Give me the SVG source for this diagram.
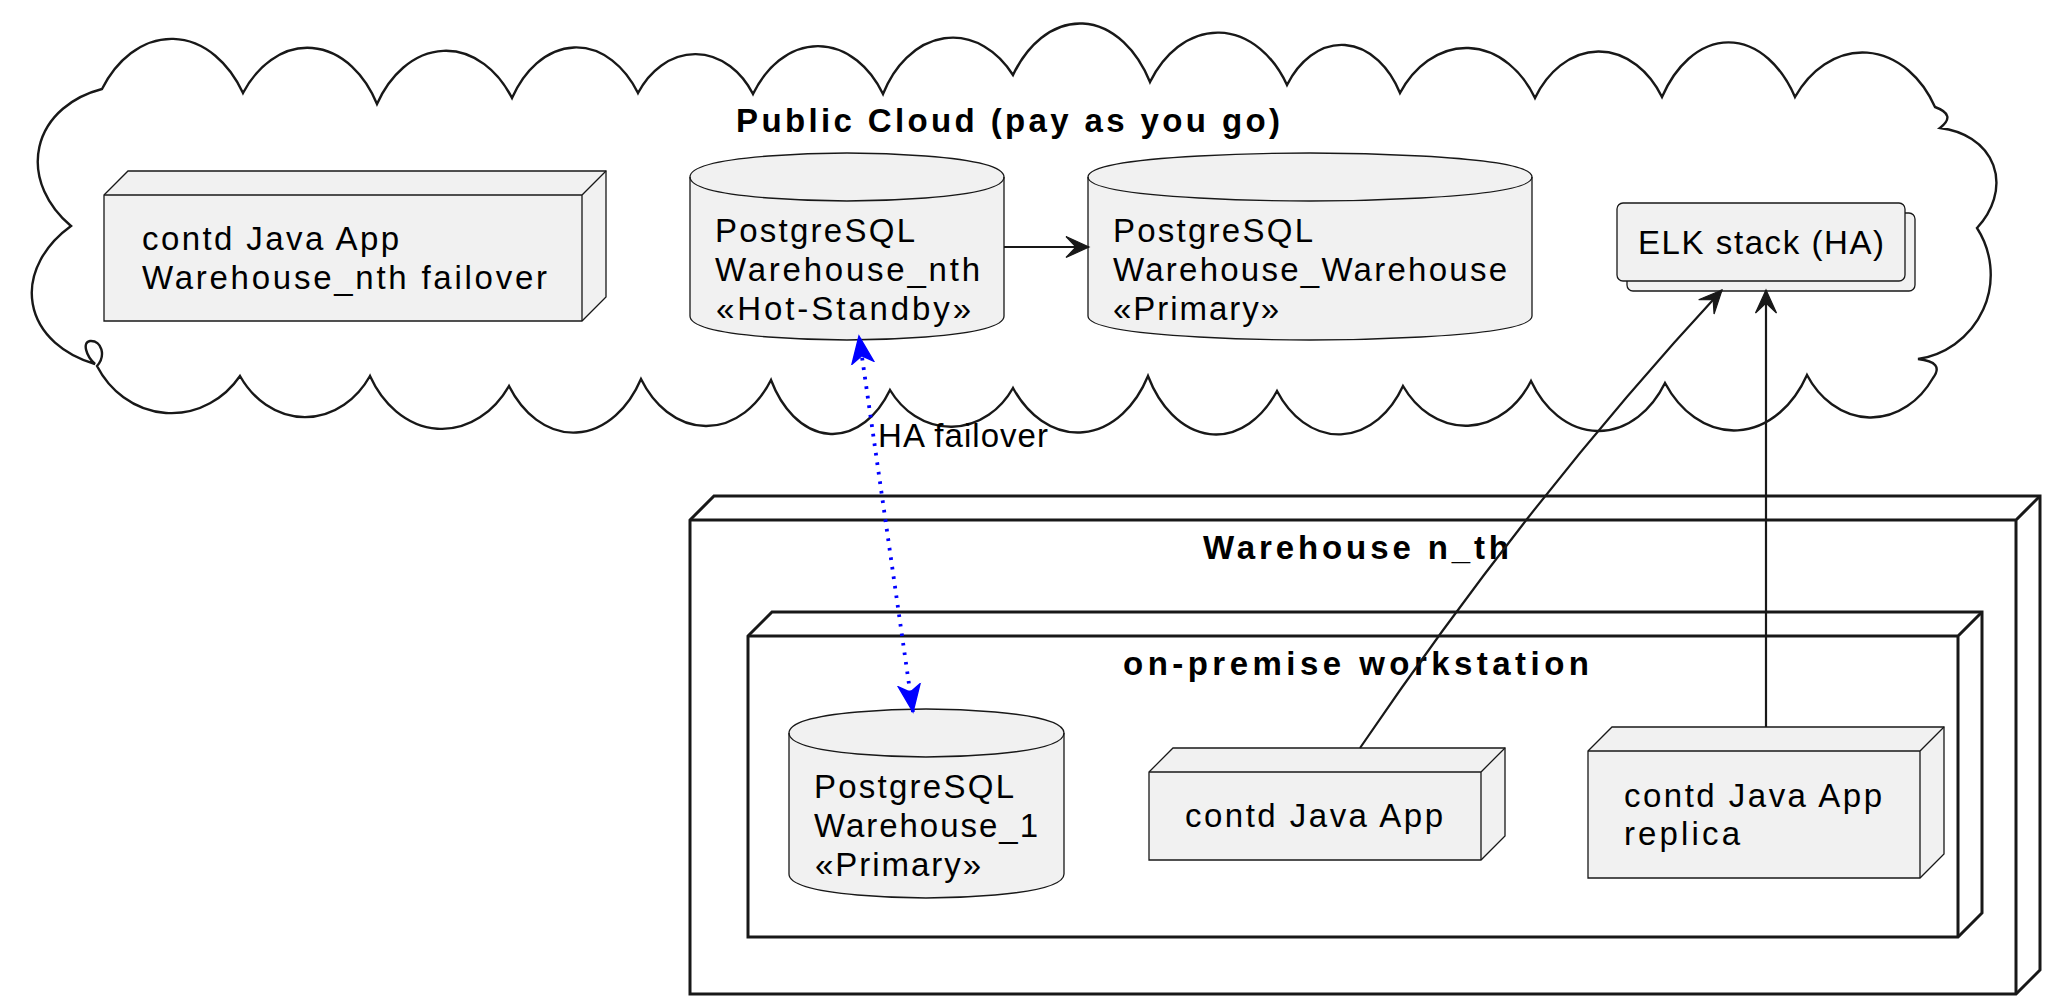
<svg xmlns="http://www.w3.org/2000/svg" width="2070" height="1004" viewBox="0 0 2070 1004">
<style>
text{font-family:"Liberation Sans",Arial,sans-serif;font-size:33px;fill:#000000;}
.t{font-weight:bold;}
.leaf{fill:#F1F1F1;stroke:#181818;stroke-width:1.3;}
.cont{fill:#FFFFFF;stroke:#181818;stroke-width:3;}
.cloud{fill:none;stroke:#181818;stroke-width:2.4;}
.edge{fill:none;stroke:#181818;stroke-width:2.2;}
.ha{fill:none;stroke:#0000FF;stroke-width:3.8;stroke-dasharray:2.6 7;}
</style>
<defs>
<marker id="ah" markerUnits="userSpaceOnUse" markerWidth="26" markerHeight="24" refX="24" refY="12" orient="auto">
<path d="M24,12 L1,1.5 L11,12 L1,22.5 Z" fill="#181818" stroke="#181818" stroke-width="1.2" stroke-linejoin="miter"/>
</marker>
<marker id="ahb" markerUnits="userSpaceOnUse" markerWidth="30" markerHeight="26" refX="28" refY="13" orient="auto-start-reverse">
<path d="M28,13 L1,2 L8,13 L1,24 Z" fill="#0000FF" stroke="#0000FF" stroke-width="1.4"/>
</marker>
</defs>
<rect width="2070" height="1004" fill="#FFFFFF"/>

<g id="cloud-public">
<path class="cloud" d="M102,89 A85,118,0,0,1,243,93 A80,111,0,0,1,377,104 A81,112,0,0,1,512,98 A76,109,0,0,1,638,93 A69,88,0,0,1,753,94 A78,107,0,0,1,883,94 A79,106,0,0,1,1013,75 A82,122,0,0,1,1150,82 A82,113,0,0,1,1287,85 A68,99,0,0,1,1400,93 A81,106,0,0,1,1535,98 A76,102,0,0,1,1662,97 A80,123,0,0,1,1795,97 A84,110,0,0,1,1935,107 Q1957,115 1940,128 A64,83,70,0,1,1977,228 A86,87,114,0,1,1918,359 Q1945,362 1933,378 A76,93,0,0,1,1807,375 A85,114,0,0,1,1665,383 A80,108,0,0,1,1531,381 A77,95,0,0,1,1403,386 A76,104,0,0,1,1277,391 A78,115,0,0,1,1148,376 A81,112,0,0,1,1013,388 A74,85,0,0,1,890,390 A71,107,0,0,1,771,380 A78,104,0,0,1,641,379 A79,111,0,0,1,509,386 A83,105,0,0,1,370,376 A78,92,0,0,1,240,376 A85,91,0,0,1,97,366 C106,356 102,340 90,341 C82,342 86,356 95,364 A84,114,-100,0,1,71,226 A84,107,-77,0,1,102,89 Z"/>
<text class="t" x="736" y="132" textLength="544" lengthAdjust="spacing">Public Cloud (pay as you go)</text>
</g>

<g id="node-failover">
<path class="leaf" d="M104,195 L128,171 L606,171 L606,297 L582,321 L104,321 Z"/>
<path class="leaf" style="fill:none" d="M104,195 L582,195 L606,171 M582,195 L582,321"/>
<text x="142" y="250" textLength="257" lengthAdjust="spacing">contd Java App</text>
<text x="142" y="289" textLength="405" lengthAdjust="spacing">Warehouse_nth failover</text>
</g>

<g id="db-hotstandby">
<path class="leaf" d="M690,177 C690,153 847,153 847,153 C847,153 1004,153 1004,177 L1004,316 C1004,340 847,340 847,340 C847,340 690,340 690,316 Z"/>
<path class="leaf" style="fill:none" d="M690,177 C690,201 847,201 847,201 C847,201 1004,201 1004,177"/>
<text x="715" y="242" textLength="200" lengthAdjust="spacing">PostgreSQL</text>
<text x="715" y="281" textLength="265" lengthAdjust="spacing">Warehouse_nth</text>
<text x="716" y="320" textLength="255" lengthAdjust="spacing">«Hot-Standby»</text>
</g>

<g id="db-warehouse-warehouse">
<path class="leaf" d="M1088,177 C1088,153 1310,153 1310,153 C1310,153 1532,153 1532,177 L1532,316 C1532,340 1310,340 1310,340 C1310,340 1088,340 1088,316 Z"/>
<path class="leaf" style="fill:none" d="M1088,177 C1088,201 1310,201 1310,201 C1310,201 1532,201 1532,177"/>
<text x="1113" y="242" textLength="200" lengthAdjust="spacing">PostgreSQL</text>
<text x="1113" y="281" textLength="394" lengthAdjust="spacing">Warehouse_Warehouse</text>
<text x="1113" y="320" textLength="166" lengthAdjust="spacing">«Primary»</text>
</g>

<g id="elk-stack">
<rect class="leaf" x="1627" y="213" width="288" height="78" rx="6"/>
<rect class="leaf" x="1617" y="203" width="288" height="78" rx="6"/>
<text x="1638" y="254" textLength="246" lengthAdjust="spacing">ELK stack (HA)</text>
</g>

<g id="node-warehouse-nth">
<path class="cont" d="M690,520 L714,496 L2040,496 L2040,970 L2016,994 L690,994 Z"/>
<path class="cont" style="fill:none" d="M690,520 L2016,520 L2040,496 M2016,520 L2016,994"/>
<text class="t" x="1203" y="559" textLength="306" lengthAdjust="spacing">Warehouse n_th</text>
</g>

<g id="node-workstation">
<path class="cont" d="M748,636 L772,612 L1982,612 L1982,913 L1958,937 L748,937 Z"/>
<path class="cont" style="fill:none" d="M748,636 L1958,636 L1982,612 M1958,636 L1958,937"/>
<text class="t" x="1123" y="675" textLength="466" lengthAdjust="spacing">on-premise workstation</text>
</g>

<g id="db-warehouse-1">
<path class="leaf" d="M789,733 C789,709 926,709 926,709 C926,709 1064,709 1064,733 L1064,874 C1064,898 926,898 926,898 C926,898 789,898 789,874 Z"/>
<path class="leaf" style="fill:none" d="M789,733 C789,757 926,757 926,757 C926,757 1064,757 1064,733"/>
<text x="814" y="798" textLength="200" lengthAdjust="spacing">PostgreSQL</text>
<text x="814" y="837" textLength="224" lengthAdjust="spacing">Warehouse_1</text>
<text x="815" y="876" textLength="166" lengthAdjust="spacing">«Primary»</text>
</g>

<g id="node-java-app">
<path class="leaf" d="M1149,772 L1173,748 L1505,748 L1505,836 L1481,860 L1149,860 Z"/>
<path class="leaf" style="fill:none" d="M1149,772 L1481,772 L1505,748 M1481,772 L1481,860"/>
<text x="1185" y="827" textLength="258" lengthAdjust="spacing">contd Java App</text>
</g>

<g id="node-java-app-replica">
<path class="leaf" d="M1588,751 L1612,727 L1944,727 L1944,854 L1920,878 L1588,878 Z"/>
<path class="leaf" style="fill:none" d="M1588,751 L1920,751 L1944,727 M1920,751 L1920,878"/>
<text x="1624" y="807" textLength="258" lengthAdjust="spacing">contd Java App</text>
<text x="1624" y="845" textLength="116" lengthAdjust="spacing">replica</text>
</g>

<g id="connectors">
<path class="edge" d="M1004,247 L1089,247" marker-end="url(#ah)"/>
<path class="edge" d="M1766,727 L1766,290" marker-end="url(#ah)"/>
<path class="edge" d="M1360,748 C1462,598 1582,441 1722,290" marker-end="url(#ah)"/>
<path class="ha" d="M913,712 L859,336" marker-start="url(#ahb)" marker-end="url(#ahb)"/>
<text x="878" y="447" textLength="170" lengthAdjust="spacing">HA failover</text>
</g>
</svg>
